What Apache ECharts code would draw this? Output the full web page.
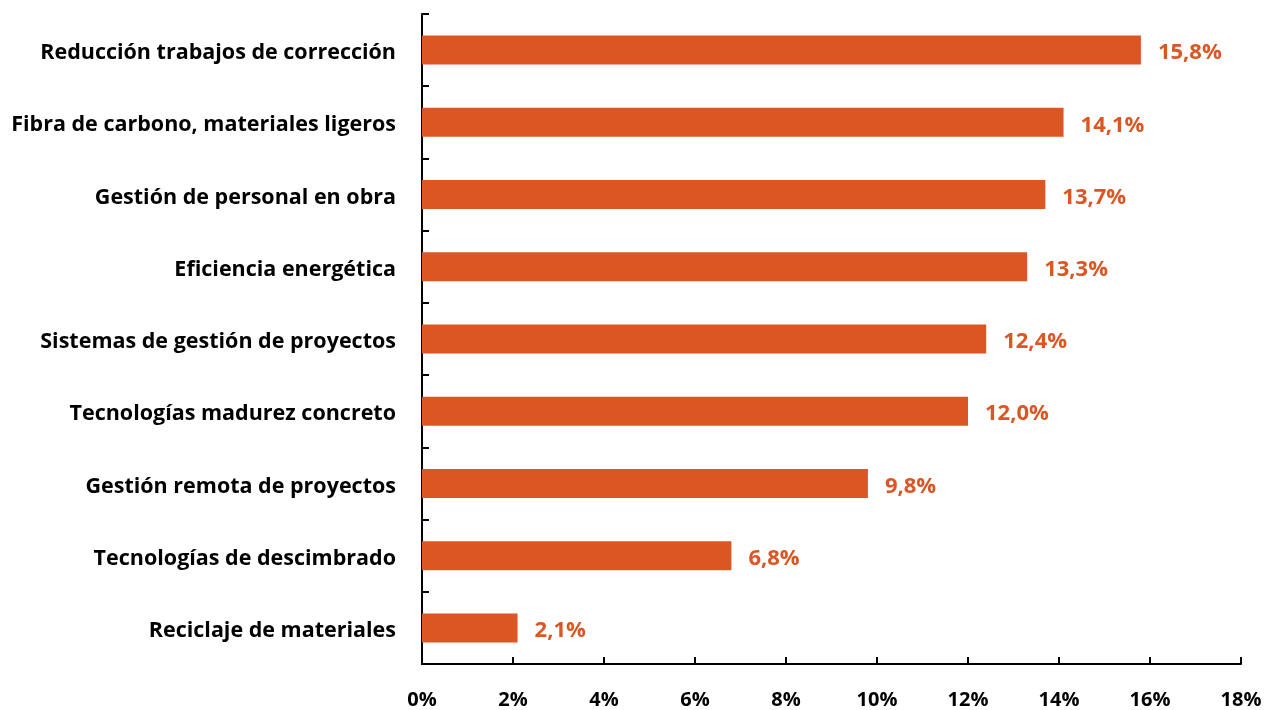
<!DOCTYPE html>
<html>
<head>
<meta charset="utf-8">
<script src="https://cdn.jsdelivr.net/npm/echarts@6/dist/echarts.min.js"></script>
<style>
html,body{margin:0;padding:0;background:#fff;}
#chart{width:1277px;height:710px;}
</style>
</head>
<body>
<div id="chart"></div>
<script>
const categories = [
  "Reducción trabajos de corrección",
  "Fibra de carbono, materiales ligeros",
  "Gestión de personal en obra",
  "Eficiencia energética",
  "Sistemas de gestión de proyectos",
  "Tecnologías madurez concreto",
  "Gestión remota de proyectos",
  "Tecnologías de descimbrado",
  "Reciclaje de materiales"
];
const values = [15.8, 14.1, 13.7, 13.3, 12.4, 12.0, 9.8, 6.8, 2.1];
const xTicks = [0, 2, 4, 6, 8, 10, 12, 14, 16, 18];

const FONT = '"Open Sans"';
const chart = echarts.init(document.getElementById('chart'));
chart.setOption({
  animation: false,
  grid: {left: 422, right: 36, top: 14, bottom: 46, containLabel: false},
  xAxis: {
    type: 'value', min: xTicks[0], max: xTicks[xTicks.length - 1], interval: 2,
    axisLine: {show: true, lineStyle: {color: '#000', width: 2}},
    axisTick: {show: true, inside: true, length: 7, lineStyle: {color: '#000', width: 2}},
    splitLine: {show: false},
    axisLabel: {
      margin: 26, color: '#000', fontFamily: FONT, fontWeight: 'bold', fontSize: 20,
      formatter: v => v + '%'
    }
  },
  yAxis: {
    type: 'category', data: categories, inverse: true,
    axisLine: {show: true, lineStyle: {color: '#000', width: 2}},
    axisTick: {show: true, inside: true, length: 7, lineStyle: {color: '#000', width: 2}},
    axisLabel: {
      margin: 26, color: '#000', fontFamily: FONT, fontWeight: 'bold', fontSize: 21.5,
      formatter: v => '{a|' + v + '}',
      rich: {a: {fontFamily: FONT, fontWeight: 'bold', fontSize: 21.5, color: '#000', padding: [6, 0, 0, 0]}}
    }
  },
  series: [{
    type: 'bar', data: values, barWidth: 29,
    itemStyle: {color: '#DB5622'},
    label: {
      show: true, position: 'right', distance: 17, offset: [0, 3],
      color: '#DB5622', fontFamily: FONT, fontWeight: 'bold', fontSize: 22,
      formatter: p => p.value.toFixed(1).replace('.', ',') + '%'
    }
  }]
});
</script>
</body>
</html>
